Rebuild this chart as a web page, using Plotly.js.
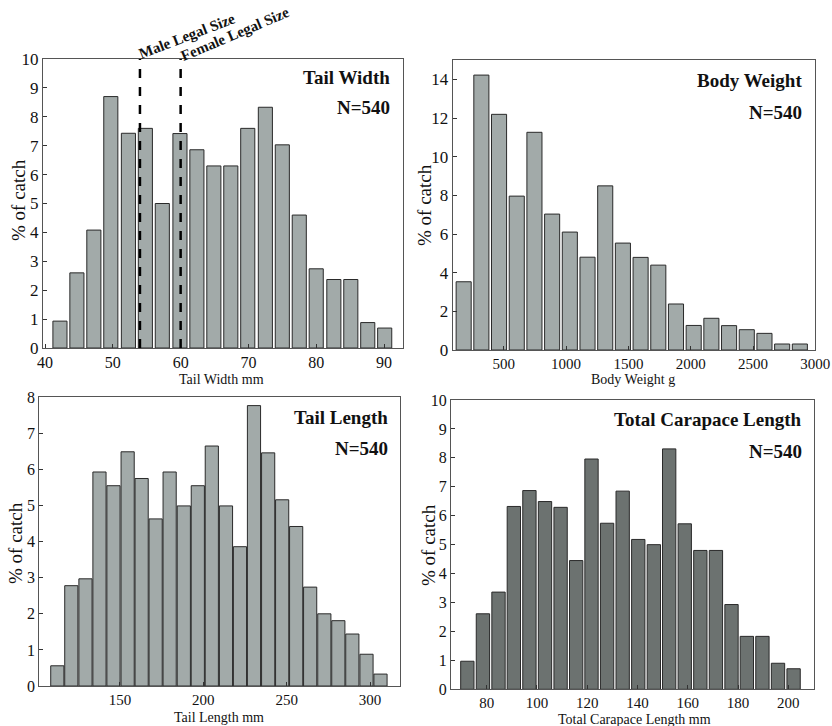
<!DOCTYPE html>
<html><head><meta charset="utf-8">
<script src="https://cdn.plot.ly/plotly-3.0.1.min.js"></script>
<style>html,body{margin:0;padding:0;background:#fff}#chart{width:832px;height:726px}</style>
</head><body><div id="chart"></div>
<script>
// Tail Width (mm) histogram
const twBins = [42.2,44.7,47.2,49.7,52.3,54.8,57.3,59.9,62.4,64.9,67.4,69.9,72.5,75.0,77.5,80.0,82.6,85.1,87.6,90.1];
const twPct  = [0.93,2.6,4.08,8.7,7.43,7.6,5.0,7.42,6.86,6.3,6.3,7.6,8.33,7.03,4.6,2.74,2.37,2.37,0.88,0.69];
// Body Weight (g) histogram
const bwBins = [178,320,462,604,746,888,1030,1172,1314,1456,1598,1740,1882,2024,2166,2308,2450,2592,2734,2876];
const bwPct  = [3.53,14.22,12.19,7.96,11.26,7.03,6.1,4.8,8.49,5.53,4.79,4.39,2.38,1.27,1.64,1.26,1.05,0.86,0.31,0.31];
// Tail Length (mm) histogram
const tlBins = [112.4,120.8,129.3,137.7,146.1,154.6,163.0,171.4,179.8,188.3,196.7,205.1,213.6,222.0,230.4,238.9,247.3,255.7,264.1,272.6,281.0,289.4,297.9,306.3];
const tlPct  = [0.56,2.78,2.97,5.93,5.55,6.49,5.75,4.63,5.93,4.99,5.55,6.65,4.99,3.86,7.77,6.46,5.16,4.42,2.74,2.0,1.81,1.44,0.88,0.33];
// Total Carapace Length (mm) histogram
const tcBins = [72.3,78.5,84.7,90.8,97.0,103.2,109.4,115.6,121.7,127.9,134.1,140.3,146.5,152.6,158.8,165.0,171.2,177.4,183.5,189.7,195.9,202.1];
const tcPct  = [0.97,2.61,3.36,6.32,6.87,6.49,6.29,4.45,7.96,5.74,6.85,5.18,5.0,8.31,5.72,4.8,4.8,2.93,1.83,1.83,0.9,0.71];
// Legal size marks on tail width
const legalSizes = [54, 60];
const legalLabels = ["Male Legal Size", "Female Legal Size"];
const panelTitles = ["Tail Width", "Body Weight", "Tail Length", "Total Carapace Length"];
const nLabel = "N=540";
const xTitles = ["Tail Width mm", "Body Weight g", "Tail Length mm", "Total Carapace Length mm"];
const yTitle = "% of catch";

const W = 832, H = 726;
const px = x => x / W;
const py = y => 1 - y / H;
const FONT = "Liberation Serif";
const light = "#a2aaa9", dark = "#6c7270", edge = "#2a2a2a";

function bar(x, y, w, color, xa, ya) {
  return {type: "bar", x: x, y: y, width: w, xaxis: xa, yaxis: ya,
    marker: {color: color, line: {color: edge, width: 1}}, hoverinfo: "x+y", showlegend: false};
}
const data = [
  bar(twBins, twPct, 2.08, light, "x", "y"),
  bar(bwBins, bwPct, 121, light, "x2", "y2"),
  bar(tlBins, tlPct, 7.9, light, "x3", "y3"),
  bar(tcBins, tcPct, 5.3, dark, "x4", "y4")
];

// plot boxes in pixels [left, right, top, bottom]
const boxes = [[43,403,59,348],[452.7,815.3,60,350],[39.3,400,397.3,686],[451,813.7,400,689.3]];

function xax(box, range, dtick, size, anchor) {
  return {domain: [px(box[0]), px(box[1])], range: range, dtick: dtick, anchor: anchor,
    showgrid: false, zeroline: false, showline: true, linecolor: "#555", linewidth: 1, mirror: true,
    ticks: "inside", ticklen: 4, tickcolor: "#333", tickfont: {family: FONT, size: size, color: "#111"}};
}
function yax(box, range, dtick, size, anchor) {
  return {domain: [py(box[3]), py(box[2])], range: range, dtick: dtick, anchor: anchor,
    showgrid: false, zeroline: false, showline: true, linecolor: "#555", linewidth: 1, mirror: true,
    ticks: "inside", ticklen: 4, tickcolor: "#333", tickfont: {family: FONT, size: size, color: "#111"}};
}

const annotations = [];
const titlePos = [[392,78,108],[804,80,112],[390,417,448],[804,420,451]];
panelTitles.forEach((t, i) => {
  annotations.push({xref: "paper", yref: "paper", x: px(titlePos[i][0]), y: py(titlePos[i][1]), xanchor: "right", yanchor: "middle",
    text: "<b>" + t + "</b>", showarrow: false, font: {family: FONT, size: 19, color: "#111"}});
  annotations.push({xref: "paper", yref: "paper", x: px(titlePos[i][0]), y: py(titlePos[i][2]), xanchor: "right", yanchor: "middle",
    text: "<b>" + nLabel + "</b>", showarrow: false, font: {family: FONT, size: 19, color: "#111"}});
});
const xtPos = [[221,379],[633,380],[219,717],[634,719]];
xTitles.forEach((t, i) => {
  annotations.push({xref: "paper", yref: "paper", x: px(xtPos[i][0]), y: py(xtPos[i][1]), xanchor: "center", yanchor: "middle",
    text: t, showarrow: false, font: {family: FONT, size: 14, color: "#111"}});
});
const ytPos = [[18,200],[424,205],[15,543],[428,545]];
ytPos.forEach(p => {
  annotations.push({xref: "paper", yref: "paper", x: px(p[0]), y: py(p[1]), xanchor: "center", yanchor: "middle",
    text: yTitle, textangle: -90, showarrow: false, font: {family: FONT, size: 19, color: "#111"}});
});
const legalPos = [[187,36,-21],[235,34,-23]];
legalLabels.forEach((t, i) => {
  annotations.push({xref: "paper", yref: "paper", x: px(legalPos[i][0]), y: py(legalPos[i][1]), xanchor: "center", yanchor: "middle",
    text: "<b>" + t + "</b>", textangle: legalPos[i][2], showarrow: false, font: {family: FONT, size: 15, color: "#111"}});
});

const shapes = legalSizes.map(v => ({type: "line", xref: "x", yref: "paper", x0: v, x1: v,
  y0: py(boxes[0][3]), y1: py(boxes[0][2]), line: {color: "#000", width: 2.5, dash: "dash"}}));

const layout = {
  width: W, height: H, margin: {l: 0, r: 0, t: 0, b: 0},
  paper_bgcolor: "#fff", plot_bgcolor: "#fff", showlegend: false,
  font: {family: FONT},
  xaxis: xax(boxes[0], [39.7, 92.8], 10, 16, "y"),
  yaxis: yax(boxes[0], [0, 10], 1, 17, "x"),
  xaxis2: xax(boxes[1], [90, 3000], 500, 15, "y2"),
  yaxis2: yax(boxes[1], [0, 15], 2, 17, "x2"),
  xaxis3: xax(boxes[2], [101.6, 318], 50, 15, "y3"),
  yaxis3: yax(boxes[2], [0, 8], 1, 16, "x3"),
  xaxis4: xax(boxes[3], [65.8, 210.1], 20, 15, "y4"),
  yaxis4: yax(boxes[3], [0, 10], 1, 16, "x4"),
  annotations: annotations, shapes: shapes
};
Plotly.newPlot("chart", data, layout, {displayModeBar: false, staticPlot: true});
</script></body></html>
